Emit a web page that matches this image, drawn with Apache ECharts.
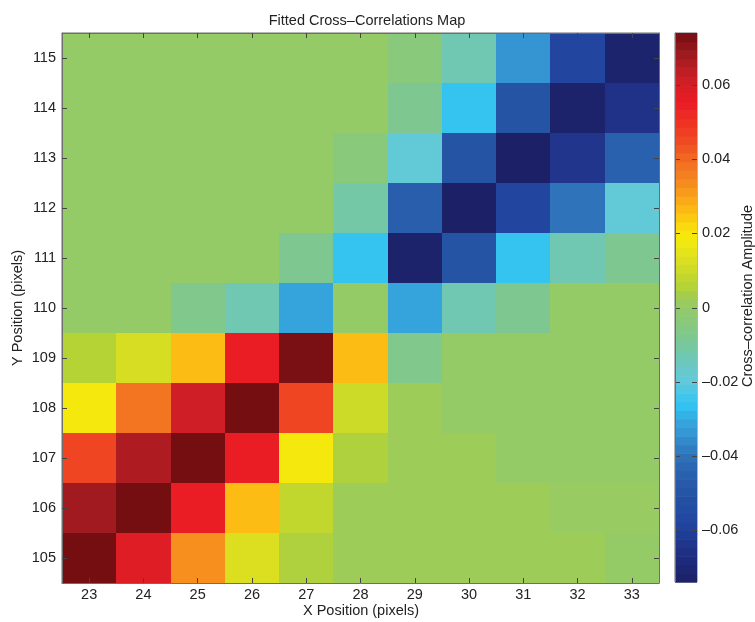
<!DOCTYPE html>
<html>
<head>
<meta charset="utf-8">
<style>
  html, body { margin: 0; padding: 0; background: #fff; }
  #chart { width: 755px; height: 622px; }
</style>
<script src="https://cdn.jsdelivr.net/npm/echarts@6/dist/echarts.min.js"></script>
</head>
<body>
<div id="chart"></div>
<script>
// X and Y pixel positions of the map
const xLabels = ['23', '24', '25', '26', '27', '28', '29', '30', '31', '32', '33'];
const yLabels = ['105', '106', '107', '108', '109', '110', '111', '112', '113', '114', '115'];

// Cross-correlation amplitude, one row per Y position (105 .. 115), columns X = 23 .. 33
const row105 = [0.074, 0.058, 0.033, 0.013, 0.005, 0.002, 0.002, 0.002, 0.002, 0.002, 0.0];
const row106 = [0.068, 0.074, 0.055, 0.026, 0.008, 0.002, 0.002, 0.002, 0.002, 0.001, 0.001];
const row107 = [0.046, 0.066, 0.074, 0.055, 0.019, 0.005, 0.002, 0.002, 0.0, 0.0, 0.0];
const row108 = [0.019, 0.038, 0.061, 0.074, 0.046, 0.010, 0.002, 0.0, 0.0, 0.0, 0.0];
const row109 = [0.006, 0.012, 0.026, 0.055, 0.073, 0.026, -0.007, 0.0, 0.0, 0.0, 0.0];
const row110 = [0.0, 0.0, -0.007, -0.013, -0.031, 0.0, -0.031, -0.013, -0.008, 0.0, 0.0];
const row111 = [0.0, 0.0, 0.0, 0.0, -0.008, -0.026, -0.073, -0.050, -0.026, -0.013, -0.008];
const row112 = [0.0, 0.0, 0.0, 0.0, 0.0, -0.011, -0.046, -0.074, -0.058, -0.040, -0.019];
const row113 = [0.0, 0.0, 0.0, 0.0, 0.0, -0.004, -0.019, -0.050, -0.074, -0.064, -0.045];
const row114 = [0.0, 0.0, 0.0, 0.0, 0.0, 0.0, -0.008, -0.026, -0.050, -0.073, -0.065];
const row115 = [0.0, 0.0, 0.0, 0.0, 0.0, 0.0, -0.004, -0.013, -0.034, -0.058, -0.072];
const amplitudeRows = [row105, row106, row107, row108, row109, row110, row111, row112, row113, row114, row115];

// Colour scale limits and colour bar tick values
const cMin = -0.074;
const cMax = 0.074;
const colorbarTicks = [-0.06, -0.04, -0.02, 0, 0.02, 0.04, 0.06];

// Colour map anchors (value, colour), blue through green to dark red
const colorAnchors = [
  [-0.074, '#1b1f63'], [-0.066, '#1f2c7f'], [-0.058, '#2144a0'], [-0.048, '#2656a6'],
  [-0.040, '#2e6fb7'], [-0.034, '#3592d0'], [-0.030, '#36a6de'], [-0.026, '#2fc5f4'],
  [-0.019, '#64c9da'], [-0.013, '#6fc8b4'], [-0.007, '#80c78a'], [0.000, '#94cb69'],
  [0.003, '#a2cc52'], [0.006, '#b6d433'], [0.012, '#d8dd22'], [0.019, '#f8ed0a'],
  [0.026, '#fdb913'], [0.033, '#f68b1f'], [0.039, '#f26b21'], [0.046, '#ef4023'],
  [0.054, '#ed1c24'], [0.061, '#cb1f26'], [0.067, '#a01b20'], [0.074, '#6b0c0e']
];

function hexToRgb(h) {
  return [parseInt(h.slice(1, 3), 16), parseInt(h.slice(3, 5), 16), parseInt(h.slice(5, 7), 16)];
}
function colorAt(v) {
  for (let i = 0; i < colorAnchors.length - 1; i++) {
    const [v0, c0] = colorAnchors[i];
    const [v1, c1] = colorAnchors[i + 1];
    if (v <= v1 || i === colorAnchors.length - 2) {
      const t = Math.max(0, Math.min(1, (v - v0) / (v1 - v0)));
      const a = hexToRgb(c0), b = hexToRgb(c1);
      const rgb = a.map((x, k) => Math.round(x + (b[k] - x) * t));
      return 'rgb(' + rgb.join(',') + ')';
    }
  }
}

// 64-level stepped palette
const levels = 64;
const palette = [];
const colorbarBins = [];
for (let i = 0; i < levels; i++) {
  const lo = cMin + (cMax - cMin) * i / levels;
  const hi = cMin + (cMax - cMin) * (i + 1) / levels;
  const mid = (lo + hi) / 2;
  palette.push(colorAt(mid));
  colorbarBins.push([lo, hi, mid]);
}

const heatData = [];
amplitudeRows.forEach((row, yi) => {
  row.forEach((v, xi) => heatData.push([xi, yi, v]));
});

const fontFamily = 'Liberation Sans, Arial, sans-serif';
const fontSize = 14.5;
const textColor = '#222';
const frameColor = '#6e6e6e';
const tickColor = '#444';
const labelFont = fontSize + 'px ' + fontFamily;

function fmtTick(v) {
  if (Math.abs(v) < 1e-9) return '0';
  const s = Math.abs(v).toFixed(2);
  return (v < 0 ? '\u2013' : '') + s;
}

const chart = echarts.init(document.getElementById('chart'), null, { renderer: 'canvas' });

const catAxisBase = {
  type: 'category',
  z: 10,
  axisLine: { show: true, lineStyle: { color: frameColor, width: 1 } },
  axisTick: { show: true, inside: true, length: 5, alignWithLabel: true, lineStyle: { color: tickColor } },
  splitLine: { show: false },
  splitArea: { show: false }
};

// Cell rectangle snapped to whole pixels so neighbouring cells share edges
function cellRect(api) {
  const c = api.coord([api.value(0), api.value(1)]);
  const s = api.size([1, 1]);
  const x0 = Math.round(c[0] - s[0] / 2), x1 = Math.round(c[0] + s[0] / 2);
  const y0 = Math.round(c[1] - s[1] / 2), y1 = Math.round(c[1] + s[1] / 2);
  return { x: x0, y: y0, width: x1 - x0, height: y1 - y0 };
}

chart.setOption({
  backgroundColor: '#ffffff',
  animation: false,
  title: {
    text: 'Fitted Cross\u2013Correlations Map',
    left: 362,
    textAlign: 'center',
    top: 8,
    textStyle: { fontFamily, fontSize, fontWeight: 'normal', color: textColor }
  },
  // axis titles
  graphic: [
    { type: 'text', x: 361, y: 611, silent: true,
      style: { text: 'X Position (pixels)', font: labelFont, fill: textColor, align: 'center', verticalAlign: 'middle' } },
    { type: 'text', x: 18, y: 308, rotation: Math.PI / 2, silent: true,
      style: { text: 'Y Position (pixels)', font: labelFont, fill: textColor, align: 'center', verticalAlign: 'middle' } },
    { type: 'text', x: 748, y: 296, rotation: Math.PI / 2, silent: true,
      style: { text: 'Cross\u2013correlation Amplitude', font: labelFont, fill: textColor, align: 'center', verticalAlign: 'middle' } }
  ],
  grid: [
    { left: 62, right: 96, top: 33, bottom: 39, outerBoundsMode: 'none', containLabel: false,
      show: true, borderColor: frameColor, borderWidth: 1, backgroundColor: 'transparent' },
    { left: 675, width: 22, top: 33, height: 549, outerBoundsMode: 'none', containLabel: false,
      show: true, borderColor: frameColor, borderWidth: 1, backgroundColor: 'transparent' }
  ],
  xAxis: [
    Object.assign({}, catAxisBase, {
      gridIndex: 0, position: 'bottom', data: xLabels,
      axisLabel: { fontFamily, fontSize, color: textColor, margin: 4 }
    }),
    Object.assign({}, catAxisBase, {
      gridIndex: 0, position: 'top', data: xLabels,
      axisLabel: { show: false }
    }),
    {
      type: 'value', gridIndex: 1, min: 0, max: 1,
      show: false
    }
  ],
  yAxis: [
    Object.assign({}, catAxisBase, {
      gridIndex: 0, position: 'left', data: yLabels,
      axisLabel: { fontFamily, fontSize, color: textColor, margin: 6 }
    }),
    Object.assign({}, catAxisBase, {
      gridIndex: 0, position: 'right', data: yLabels,
      axisLabel: { show: false }
    }),
    {
      type: 'value', gridIndex: 1, position: 'right', min: cMin, max: cMax, z: 10,
      axisLine: { show: true, lineStyle: { color: frameColor } },
      axisTick: { show: false },
      axisLabel: { fontFamily, fontSize, color: textColor, margin: 5, customValues: colorbarTicks, formatter: fmtTick },
      splitLine: { show: false }
    }
  ],
  visualMap: {
    type: 'continuous',
    show: false,
    min: cMin,
    max: cMax,
    dimension: 2,
    seriesIndex: [0, 1],
    inRange: { color: palette }
  },
  series: [
    {
      type: 'custom',
      xAxisIndex: 0,
      yAxisIndex: 0,
      data: heatData,
      encode: { x: 0, y: 1 },
      renderItem: function (params, api) {
        return {
          type: 'rect',
          shape: cellRect(api),
          style: { fill: api.visual('color'), stroke: null }
        };
      },
      silent: true,
      z: 1
    },
    {
      // colour bar: one stripe per palette level
      type: 'custom',
      xAxisIndex: 2,
      yAxisIndex: 2,
      data: colorbarBins,
      encode: { y: [0, 1] },
      renderItem: function (params, api) {
        const p0 = api.coord([0, api.value(0)]);
        const p1 = api.coord([1, api.value(1)]);
        return {
          type: 'rect',
          shape: { x: p0[0], y: p1[1], width: p1[0] - p0[0], height: p0[1] - p1[1] + 0.6 },
          style: { fill: api.visual('color') }
        };
      },
      silent: true,
      z: 1
    },
    {
      // colour bar tick marks on both inner edges
      type: 'custom',
      xAxisIndex: 2,
      yAxisIndex: 2,
      data: colorbarTicks.map(v => [0, v]),
      encode: { x: 0, y: 1 },
      renderItem: function (params, api) {
        const l = api.coord([0, api.value(1)]);
        const r = api.coord([1, api.value(1)]);
        const y = Math.round(l[1]) + 0.5;
        const st = { stroke: tickColor, lineWidth: 1 };
        return {
          type: 'group',
          children: [
            { type: 'line', shape: { x1: l[0], y1: y, x2: l[0] + 5, y2: y }, style: st },
            { type: 'line', shape: { x1: r[0] - 5, y1: y, x2: r[0], y2: y }, style: st }
          ]
        };
      },
      silent: true,
      z: 5
    }
  ]
});
</script>
</body>
</html>
